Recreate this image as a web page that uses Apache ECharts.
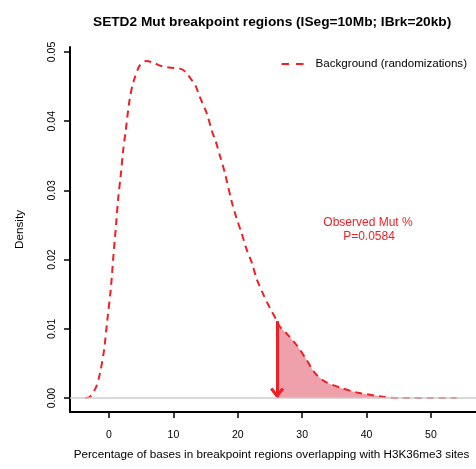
<!DOCTYPE html>
<html>
<head>
<meta charset="utf-8">
<script src="https://cdn.jsdelivr.net/npm/echarts@6/dist/echarts.min.js"></script>
<style>
html,body{margin:0;padding:0;background:#fff;}
#c{width:476px;height:469px;}
</style>
</head>
<body>
<div id="c"></div>
<script>
// Background (randomizations) density curve
var bgX = [-3.7,-2.95,-2.0,-1.4,-0.78,-0.26,0.26,0.67,1.09,1.45,1.8,2.2,2.6,3.2,3.8,4.8,5.8,7.0,8.0,9.0,10.0,11.0,11.8,12.8,13.5,14.1,15.2,16.0,16.5,17.2,18.0,19.05,19.8,20.6,21.4,22.2,22.9,24.0,25.0,26.0,26.55,27.6,29.1,30.7,32.0,33.5,35.9,38.5,41.0,43.1,45.2,50.0,54.0];
var bgY = [0.0000,0.0002,0.0016,0.0036,0.0069,0.0113,0.0156,0.0204,0.0250,0.0291,0.0320,0.0358,0.0387,0.0431,0.0457,0.0481,0.0487,0.0484,0.0480,0.0478,0.0477,0.0476,0.0472,0.0460,0.0450,0.0435,0.0411,0.0385,0.0373,0.0351,0.0325,0.0284,0.0260,0.0238,0.0214,0.0195,0.0173,0.0149,0.0130,0.0113,0.0103,0.0093,0.0077,0.0055,0.0036,0.0024,0.0015,0.0008,0.0004,0.0001,0.0000,0.0000,0.0000];
var observed = 26.1;
var pValue = '0.0584';
var xTicks = [0,10,20,30,40,50];
var yTicks = [0,0.01,0.02,0.03,0.04,0.05];
var yTickLabels = ['0.00','0.01','0.02','0.03','0.04','0.05'];

var RED = '#ee1f25';

function interp(x){
  for (var i=0;i<bgX.length-1;i++){
    if (x>=bgX[i] && x<=bgX[i+1]){
      var t=(x-bgX[i])/(bgX[i+1]-bgX[i]);
      return bgY[i]+t*(bgY[i+1]-bgY[i]);
    }
  }
  return 0;
}
var curve = bgX.map(function(x,i){return [x,bgY[i]];});
var obsDens = interp(observed);
var tail = [[observed,obsDens]].concat(curve.filter(function(p){return p[0]>observed;}));

var chart = echarts.init(document.getElementById('c'));
chart.setOption({
  animation:false,
  title:{
    text:'SETD2 Mut breakpoint regions (ISeg=10Mb; IBrk=20kb)',
    left:88, top:10,
    textStyle:{fontFamily:'Liberation Sans',fontSize:13.7,fontWeight:'bold',color:'#000'}
  },
  legend:{
    data:[{name:'Background (randomizations)'}],
    right:4, top:53,
    itemWidth:22, itemHeight:10, itemGap:5,
    itemStyle:{opacity:0},
    lineStyle:{color:RED,width:2,type:[7.5,7]},
    textStyle:{fontFamily:'Liberation Sans',fontSize:11.6,color:'#000',padding:[0,0,0,7]}
  },
  grid:{left:70, top:47, right:0, bottom:57},
  xAxis:{
    type:'value', min:-6.06, max:57.0,
    name:'Percentage of bases in breakpoint regions overlapping with H3K36me3 sites',
    nameLocation:'middle', nameGap:37,
    nameTextStyle:{fontFamily:'Liberation Sans',fontSize:11.7,color:'#000',padding:[0,0,0,-3]},
    axisLine:{show:true,onZero:false,lineStyle:{color:'#000',width:2}},
    axisTick:{show:true,length:6,lineStyle:{color:'#000',width:1.5},customValues:xTicks},
    axisLabel:{customValues:xTicks,margin:18,fontFamily:'Liberation Sans',fontSize:10.5,color:'#000'},
    splitLine:{show:false}
  },
  yAxis:{
    type:'value', min:-0.00202, max:0.05072,
    name:'Density', nameLocation:'middle', nameGap:44, nameRotate:90,
    nameTextStyle:{fontFamily:'Liberation Sans',fontSize:11.7,color:'#000'},
    axisLine:{show:true,onZero:false,lineStyle:{color:'#000',width:2}},
    axisTick:{show:true,length:6,lineStyle:{color:'#000',width:1.5},customValues:yTicks},
    axisLabel:{customValues:yTicks,rotate:90,margin:12,fontFamily:'Liberation Sans',fontSize:10.5,color:'#000',
      formatter:function(v){var i=yTicks.indexOf(v);return i>=0?yTickLabels[i]:v.toFixed(2);}},
    splitLine:{show:false}
  },
  series:[
    {
      name:'tail', type:'line', data:tail, smooth:0.3, symbol:'none', silent:true,
      lineStyle:{width:0}, areaStyle:{color:'#eea1ab',opacity:1}, z:1,
      markLine:{
        silent:true, animation:false,
        symbol:['none','path://M7,0 L14,9 L11.6,11 L7,5 L2.4,11 L0,9 Z'],
        symbolSize:[14,11], symbolOffset:[0,[0,5]],
        label:{show:false},
        lineStyle:{color:RED,width:3,type:'solid'},
        data:[[{coord:[observed,obsDens]},{coord:[observed,0]}]]
      }
    },
    {
      name:'Background (randomizations)', type:'line', data:curve, smooth:0.3, symbol:'none', z:3,
      itemStyle:{color:RED},
      lineStyle:{color:RED,width:2,type:[7,5]},
      markLine:{
        silent:true, symbol:['none','none'], label:{show:false},
        lineStyle:{color:'#cccccc',width:1.5,type:'solid'},
        data:[{yAxis:0}]
      }
    }
  ],
  graphic:[
    {type:'text', x:368, y:223, style:{text:'Observed Mut %',fill:RED,font:'12px "Liberation Sans"',textAlign:'center',textVerticalAlign:'middle'}},
    {type:'text', x:369, y:237, style:{text:'P='+pValue,fill:RED,font:'12px "Liberation Sans"',textAlign:'center',textVerticalAlign:'middle'}}
  ]
});
</script>
</body>
</html>
